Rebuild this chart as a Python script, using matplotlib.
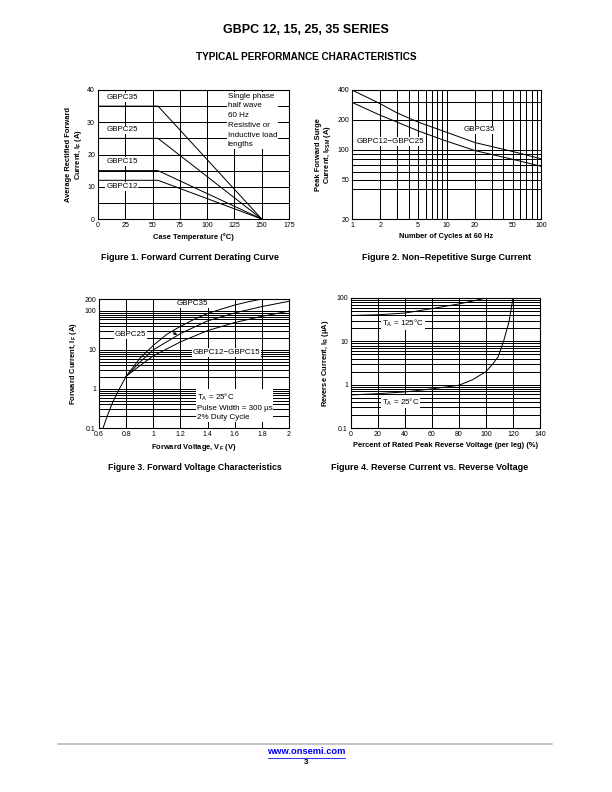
import numpy as np
import matplotlib
matplotlib.use('Agg')
import matplotlib.pyplot as plt
from matplotlib.ticker import FixedLocator, NullFormatter

plt.rcParams['font.family'] = ['Liberation Sans', 'DejaVu Sans']
plt.rcParams['mathtext.fontset'] = 'custom'
plt.rcParams['mathtext.rm'] = 'Liberation Sans'
plt.rcParams['mathtext.bf'] = 'Liberation Sans:bold'

# --- Figure 1: derating curve ---
case_temp = [0, 55, 150]
if_35 = [35, 35, 0]
if_25 = [25, 25, 0]
if_15 = [15, 15, 0]
if_12 = [12, 12, 0]

# --- Figure 2: surge current ---
cycles = [1, 2, 3, 5, 10, 20, 50, 100]
ifsm_35 = [400, 290, 235, 190, 150, 118, 96, 81]
ifsm_25 = [300, 222, 190, 155, 122, 98, 80, 68]

# --- Figure 3: forward voltage ---
vf_common = [0.63, 0.66, 0.70, 0.75, 0.80]
ifw_common = [0.1, 0.2, 0.45, 1.0, 2.1]
vf_35 = [0.8, 0.9, 1.0, 1.1, 1.2, 1.3, 1.4, 1.5, 1.6, 1.7, 1.8]
ifw_35 = [2.1, 6.0, 13, 25, 40, 60, 85, 110, 140, 170, 200]
vf_25 = [0.8, 0.9, 1.0, 1.2, 1.4, 1.6, 1.8, 2.0]
ifw_25 = [2.1, 4.8, 10, 26, 55, 88, 128, 175]
vf_12 = [0.8, 0.9, 1.0, 1.2, 1.4, 1.6, 1.8, 2.0]
ifw_12 = [2.1, 3.9, 7, 16, 31, 50, 72, 98]

# --- Figure 4: reverse current ---
pct_125 = [0, 20, 40, 60, 80, 90, 100]
ir_125 = [39.5, 41, 45, 57, 73, 85, 100]
pct_25 = [0, 20, 40, 60, 80, 90, 100, 105, 109, 113, 117, 120]
ir_25 = [0.58, 0.62, 0.68, 0.8, 0.97, 1.3, 2.0, 3.0, 4.4, 10, 28, 100]

W, H = 612, 792
fig = plt.figure(figsize=(8.5, 11), dpi=72)

TICK = 7
ANN = 8
LAB = 7.5


def box(l, t, r, b):
    return [l / W, 1 - b / H, (r - l) / W, (b - t) / H]


def ptext(x, y, s, **kw):
    fig.text(x / W, 1 - y / H, s, **kw)


def style(ax):
    for sp in ax.spines.values():
        sp.set_linewidth(1.1)
        sp.set_color('black')
    ax.tick_params(which='both', length=0, labelsize=TICK, pad=3)
    ax.grid(True, which='both', color='black', linewidth=1.0)
    ax.set_axisbelow(True)


lab = dict(fontsize=LAB, fontweight='bold')
wbox = dict(facecolor='white', edgecolor='none', pad=0.8)

# Figure 1
ax1 = fig.add_axes(box(98, 90, 289, 219))
for y in [if_35, if_25, if_15, if_12]:
    ax1.plot(case_temp, y, color='black', linewidth=1.0)
ax1.set_xlim(0, 175)
ax1.set_ylim(0, 40)
ax1.set_xticks(np.arange(0, 176, 25))
ax1.set_yticks([0, 10, 20, 30, 40])
ax1.yaxis.set_minor_locator(FixedLocator([5, 15, 25, 35]))
style(ax1)
ax1.set_xlabel('Case Temperature (°C)', labelpad=4, **lab)
ax1.set_ylabel('Average Rectified Forward\nCurrent, I$_\\mathbf{F}$ (A)', labelpad=3,
               linespacing=1.1, **lab)
for txt, y in [('GBPC35', 37.7), ('GBPC25', 27.6), ('GBPC15', 17.8), ('GBPC12', 10.1)]:
    ax1.text(7.5, y, txt, fontsize=ANN, va='center', bbox=wbox)
ax1.text(119, 39.2, 'Single phase\nhalf wave\n60 Hz\nResistive or\nInductive load\nlengths',
         fontsize=ANN, va='top', linespacing=1.55, bbox=wbox)

# Figure 2
ax2 = fig.add_axes(box(352, 90, 541, 219))
ax2.plot(cycles, ifsm_35, color='black', linewidth=1.0)
ax2.plot(cycles, ifsm_25, color='black', linewidth=1.0)
ax2.set_xscale('log')
ax2.set_yscale('log')
ax2.set_xlim(1, 100)
ax2.set_ylim(20, 400)
ax2.xaxis.set_major_locator(FixedLocator([1, 2, 5, 10, 20, 50, 100]))
ax2.xaxis.set_minor_locator(FixedLocator([3, 4, 6, 7, 8, 9, 30, 40, 60, 70, 80, 90]))
ax2.set_xticklabels(['1', '2', '5', '10', '20', '50', '100'])
ax2.yaxis.set_major_locator(FixedLocator([20, 50, 100, 200, 400]))
ax2.yaxis.set_minor_locator(FixedLocator([40, 60, 70, 80, 90, 300]))
ax2.set_yticklabels(['20', '50', '100', '200', '400'])
ax2.xaxis.set_minor_formatter(NullFormatter())
ax2.yaxis.set_minor_formatter(NullFormatter())
style(ax2)
ax2.set_xlabel('Number of Cycles at 60 Hz', labelpad=4, **lab)
ax2.set_ylabel('Peak Forward Surge\nCurrent, I$_\\mathbf{FSM}$ (A)', labelpad=4,
               linespacing=1.1, **lab)
ax2.text(15, 158, 'GBPC35', fontsize=ANN, va='center', bbox=wbox)
ax2.text(1.13, 121, 'GBPC12\u2212GBPC25', fontsize=ANN, va='center', bbox=wbox)

# Figure 3
ax3 = fig.add_axes(box(99, 299, 289, 428))
ax3.plot(vf_common, ifw_common, color='black', linewidth=1.0)
for x, y in [(vf_35, ifw_35), (vf_25, ifw_25), (vf_12, ifw_12)]:
    ax3.plot(x, y, color='black', linewidth=1.0)
ax3.set_yscale('log')
ax3.set_xlim(0.6, 2.0)
ax3.set_ylim(0.1, 200)
ax3.set_xticks([0.6, 0.8, 1.0, 1.2, 1.4, 1.6, 1.8, 2.0])
ax3.set_xticklabels(['0.6', '0.8', '1', '1.2', '1.4', '1.6', '1.8', '2'])
ax3.yaxis.set_major_locator(FixedLocator([0.1, 1, 10, 100, 200]))
ax3.set_yticklabels(['0.1', '1', '10', '100', '200'])
ax3.yaxis.set_minor_locator(FixedLocator(
    [m * d for d in [0.1, 1, 10] for m in range(2, 10)]))
ax3.yaxis.set_minor_formatter(NullFormatter())
style(ax3)
ax3.set_xlabel('Forward Voltage, V$_\\mathbf{F}$ (V)', labelpad=4, **lab)
ax3.set_ylabel('Forward Current, I$_\\mathbf{F}$ (A)', labelpad=5, **lab)
ax3.text(1.17, 150, 'GBPC35', fontsize=ANN, va='center', bbox=wbox)
ax3.text(0.715, 24, 'GBPC25', fontsize=ANN, va='center', bbox=wbox)
ax3.annotate('', xy=(1.19, 23), xytext=(1.13, 29),
             arrowprops=dict(arrowstyle='-|>', color='black', lw=0.8, mutation_scale=6))
ax3.text(1.29, 8.7, 'GBPC12\u2212GBPC15', fontsize=ANN, va='center', bbox=wbox)
ax3.text(1.32, 0.88, 'T$_\\mathregular{A}$ = 25°C\nPulse Width = 300 \u03bcs\n2% Duty Cycle',
         fontsize=ANN, va='top', linespacing=1.45, bbox=wbox)

# Figure 4
ax4 = fig.add_axes(box(351, 298, 540, 428))
ax4.plot(pct_125, ir_125, color='black', linewidth=1.0)
ax4.plot(pct_25, ir_25, color='black', linewidth=1.0)
ax4.set_yscale('log')
ax4.set_xlim(0, 140)
ax4.set_ylim(0.1, 100)
ax4.set_xticks(np.arange(0, 141, 20))
ax4.yaxis.set_major_locator(FixedLocator([0.1, 1, 10, 100]))
ax4.set_yticklabels(['0.1', '1', '10', '100'])
ax4.yaxis.set_minor_locator(FixedLocator(
    [m * d for d in [0.1, 1, 10] for m in range(2, 10)]))
ax4.yaxis.set_minor_formatter(NullFormatter())
style(ax4)
ax4.set_xlabel('Percent of Rated Peak Reverse Voltage (per leg) (%)', labelpad=4, **lab)
ax4.set_ylabel('Reverse Current, I$_\\mathbf{R}$ (\u03bcA)', labelpad=5, **lab)
ax4.text(23, 26, 'T$_\\mathregular{A}$ = 125°C', fontsize=ANN, va='center', bbox=wbox)
ax4.text(23, 0.4, 'T$_\\mathregular{A}$ = 25°C', fontsize=ANN, va='center', bbox=wbox)

# page texts
ptext(306, 30, 'GBPC 12, 15, 25, 35 SERIES', fontsize=12.5, fontweight='bold', ha='center', va='center')
ptext(306, 57, 'TYPICAL PERFORMANCE CHARACTERISTICS', fontsize=10, fontweight='bold', ha='center', va='center')
ptext(190, 257, 'Figure 1. Forward Current Derating Curve', fontsize=9, fontweight='bold', ha='center', va='center')
ptext(447, 257, 'Figure 2. Non\u2212Repetitive Surge Current', fontsize=9, fontweight='bold', ha='center', va='center')
ptext(195, 467, 'Figure 3. Forward Voltage Characteristics', fontsize=8.8, fontweight='bold', ha='center', va='center')
ptext(430, 467, 'Figure 4. Reverse Current vs. Reverse Voltage', fontsize=9, fontweight='bold', ha='center', va='center')

fig.add_artist(plt.Line2D([58 / W, 552 / W], [1 - 744 / H, 1 - 744 / H], color='#b0b0b0', linewidth=1.5))
ptext(306, 752, 'www.onsemi.com', fontsize=9.3, fontweight='bold', color='#0000ee', ha='center', va='center')
fig.add_artist(plt.Line2D([268 / W, 345 / W], [1 - 757.5 / H, 1 - 757.5 / H], color='#0000ee', linewidth=0.8))
ptext(306, 763, '3', fontsize=8, fontweight='bold', ha='center', va='center')

fig.savefig('out.png', dpi=72)
